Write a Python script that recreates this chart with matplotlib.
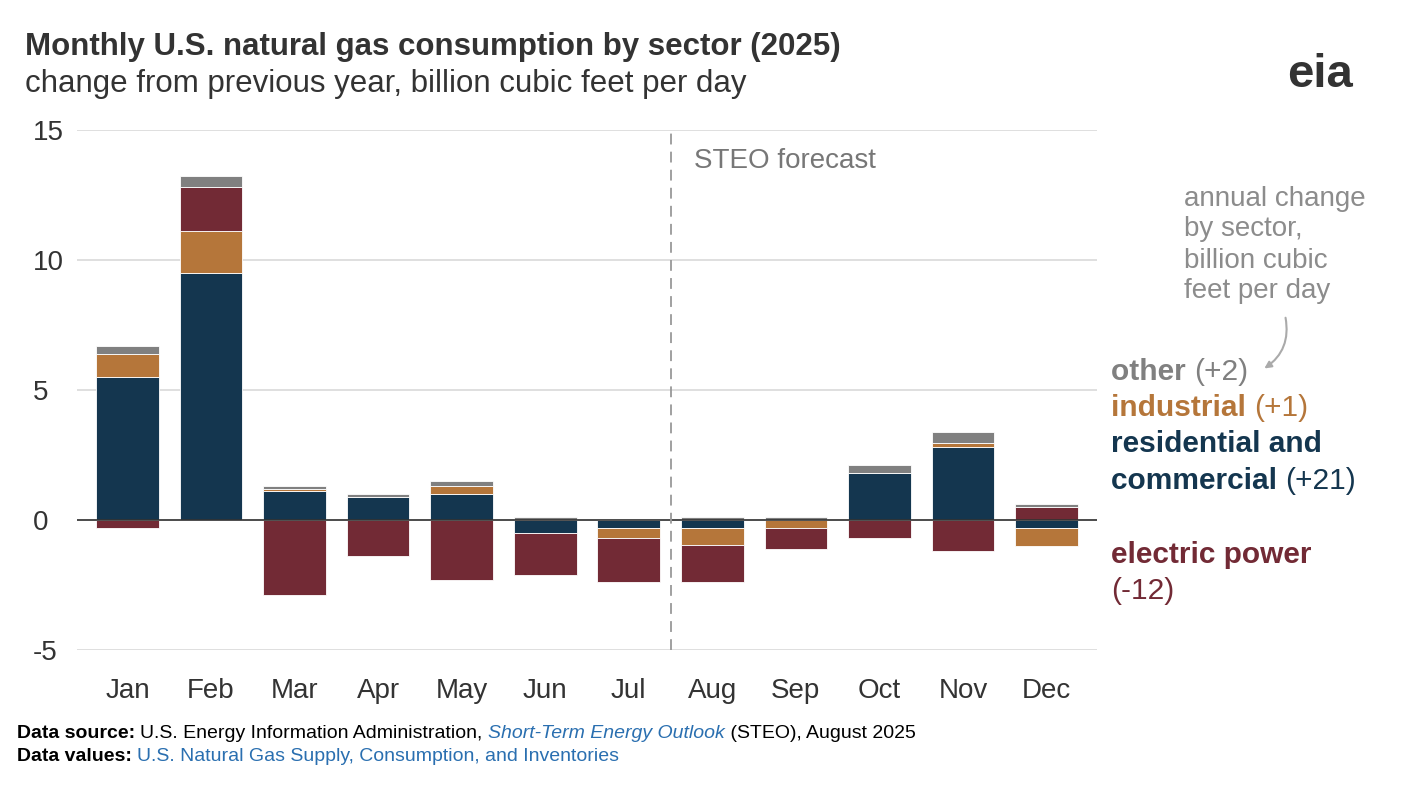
import numpy as np
import matplotlib.pyplot as plt

plt.rcParams['font.family'] = ['Liberation Sans', 'DejaVu Sans']

months = ['Jan','Feb','Mar','Apr','May','Jun','Jul','Aug','Sep','Oct','Nov','Dec']
data = {
    'residential': [5.5, 9.5, 1.1, 0.9, 1.0, -0.5, -0.3, -0.3, 0.0, 1.8, 2.8, -0.3],
    'industrial':  [0.9, 1.6, 0.1, 0.0, 0.3, 0.0, -0.4, -0.65, -0.3, 0.0, 0.15, -0.7],
    'electric':    [-0.3, 1.7, -2.9, -1.4, -2.3, -1.6, -1.7, -1.45, -0.8, -0.7, -1.2, 0.5],
    'other':       [0.3, 0.45, 0.1, 0.1, 0.2, 0.1, 0.0, 0.1, 0.1, 0.3, 0.45, 0.1],
}
colors = {'residential': '#14364f', 'industrial': '#b5763a',
          'electric': '#722a35', 'other': '#808080'}

W, H = 1406, 788
fig = plt.figure(figsize=(14.06, 7.88), dpi=100)
ax = fig.add_axes([0.055, 0.175, 0.725, 0.66])
x = np.arange(12)
pos = np.zeros(12)
neg = np.zeros(12)
for k in ['residential', 'industrial', 'electric', 'other']:
    v = np.array(data[k])
    bottom = np.where(v >= 0, pos, neg)
    ax.bar(x, v, 0.75, bottom=bottom, color=colors[k], edgecolor='white', linewidth=0.6)
    pos += np.where(v >= 0, v, 0)
    neg += np.where(v < 0, v, 0)

ax.set_ylim(-5, 15)
ax.set_xlim(-0.6, 11.6)
ax.set_yticks([-5, 0, 5, 10, 15])
ax.set_yticklabels(['-5', '0', '5', '10', '15'])
ax.yaxis.grid(True, color='#d9d9d9', linewidth=1.2)
ax.set_axisbelow(True)
ax.axhline(0, color='#333333', linewidth=1.2)
for s in ax.spines.values():
    s.set_visible(False)
ax.tick_params(length=0, labelsize=20, colors='#333333')
ax.tick_params(axis='x', pad=20)
ax.tick_params(axis='y', pad=32)
for lab in ax.get_yticklabels():
    lab.set_horizontalalignment('left')
ax.set_xticks(x)
ax.set_xticklabels(months)

ax.axvline(6.5, color='#999999', linestyle=(0, (6, 4)), linewidth=1.3)
ax.text(6.78, 13.8, 'STEO forecast', fontsize=20, color='#777777', va='center')

fig.text(0.018, 0.94, 'Monthly U.S. natural gas consumption by sector (2025)',
         fontsize=22.5, fontweight='bold', color='#333333', va='center')
fig.text(0.018, 0.893, 'change from previous year, billion cubic feet per day',
         fontsize=22.5, color='#333333', va='center')
fig.text(1320 / W, 1 - 75 / H, 'eia', fontsize=34, fontweight='bold', color='#333333', ha='center', va='center')

fig.text(0.842, 1 - 245 / H, 'annual change\nby sector,\nbillion cubic\nfeet per day', fontsize=20,
         color='#8c8c8c', va='center', linespacing=1.25)
ax.annotate('', xy=(1262 / W, 1 - 370 / H), xycoords='figure fraction',
            xytext=(1285 / W, 1 - 315 / H), textcoords='figure fraction',
            arrowprops=dict(arrowstyle='-|>', color='#aaaaaa', lw=1.5,
                            connectionstyle='arc3,rad=-0.35'))

def chain(xx, y, parts, size):
    for t, c, w, st in parts:
        tt = fig.text(xx, y, t, fontsize=size, color=c, fontweight=w, style=st, va='center')
        fig.canvas.draw()
        xx += tt.get_window_extent().width / fig.bbox.width

def lab(y, parts):
    chain(0.79, y, [(t, c, w, 'normal') for t, c, w in parts], 21.5)

lab(0.528, [('other ', '#808080', 'bold'), ('(+2)', '#808080', 'normal')])
lab(0.482, [('industrial ', '#b5763a', 'bold'), ('(+1)', '#b5763a', 'normal')])
lab(0.436, [('residential and', '#14364f', 'bold')])
lab(0.390, [('commercial ', '#14364f', 'bold'), ('(+21)', '#14364f', 'normal')])
lab(0.296, [('electric power', '#722a35', 'bold')])
lab(0.250, [('(-12)', '#722a35', 'normal')])

chain(0.012, 0.069, [('Data source: ', 'black', 'bold', 'normal'),
                     ('U.S. Energy Information Administration, ', 'black', 'normal', 'normal'),
                     ('Short-Term Energy Outlook', '#2a6fb0', 'normal', 'italic'),
                     (' (STEO), August 2025', 'black', 'normal', 'normal')], 14)
chain(0.012, 0.040, [('Data values: ', 'black', 'bold', 'normal'),
                     ('U.S. Natural Gas Supply, Consumption, and Inventories', '#2a6fb0', 'normal', 'normal')], 14)

fig.savefig('out.png')
